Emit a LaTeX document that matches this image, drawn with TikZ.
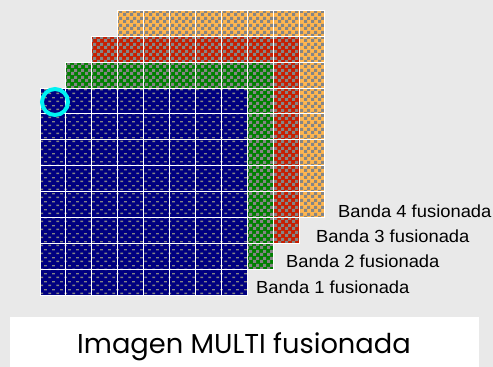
\documentclass[tikz,border=0pt]{standalone}
\usepackage{fontspec}
\setmainfont{Liberation Sans}
\newfontfamily\titlefont{Poppins}
\usetikzlibrary{patterns}
\pgfdeclarepatternformonly{mychecker}{\pgfpointorigin}{\pgfqpoint{6.475pt}{6.475pt}}{\pgfqpoint{6.475pt}{6.475pt}}{%
  \pgfpathrectangle{\pgfpointorigin}{\pgfqpoint{3.2375pt}{3.2375pt}}%
  \pgfpathrectangle{\pgfqpoint{3.2375pt}{3.2375pt}}{\pgfqpoint{3.2375pt}{3.2375pt}}%
  \pgfusepath{fill}}
\pgfdeclarepatternformonly{mydashes}{\pgfpointorigin}{\pgfqpoint{8pt}{8pt}}{\pgfqpoint{8pt}{8pt}}{%
  \pgfpathrectangle{\pgfqpoint{0.5pt}{1pt}}{\pgfqpoint{3pt}{1.5pt}}%
  \pgfpathrectangle{\pgfqpoint{4.5pt}{5pt}}{\pgfqpoint{3pt}{1.5pt}}%
  \pgfusepath{fill}}
\definecolor{bg}{HTML}{E9E9E9}
\definecolor{cnavy}{HTML}{000080}
\definecolor{cgreen}{HTML}{008000}
\definecolor{cred}{HTML}{C81E00}
\definecolor{corange}{HTML}{FFB64F}
\definecolor{cgrey}{HTML}{858585}
\definecolor{ccyan}{HTML}{00F2F2}
\tikzset{
  cellbase/.style={draw=white, line width=1pt},
  lbl/.style={anchor=west, inner sep=0pt, xscale=1.05, font=\fontsize{17.5}{17.5}\selectfont},
}
\newcommand{\bandgrid}[4]{% x0, y0, base color, pattern
  \foreach \i in {0,...,7}{
    \foreach \j in {0,...,7}{
      \fill[#3] ({#1+\i*25.9},{#2+\j*25.9}) rectangle ++(25.9,25.9);
      \fill[pattern=#4, pattern color=cgrey] ({#1+\i*25.9},{#2+\j*25.9}) rectangle ++(25.9,25.9);
      \draw[cellbase] ({#1+\i*25.9},{#2+\j*25.9}) rectangle ++(25.9,25.9);
    }
  }
}
\begin{document}
\begin{tikzpicture}[x=1pt,y=-1pt]
\fill[bg] (0,0) rectangle (493,367);
\useasboundingbox (0,0) rectangle (493,367);
\bandgrid{117.7}{10.3}{corange}{mychecker}
\bandgrid{91.8}{36.2}{cred}{mychecker}
\bandgrid{65.9}{62.1}{cgreen}{mychecker}
\bandgrid{40}{88}{cnavy}{mydashes}
\draw[ccyan, line width=4pt] (55,102) circle (13);
\node[lbl] (b4) at (338,211) {Banda 4 fusionada};
\node[lbl] (b3) at (316,236) {Banda 3 fusionada};
\node[lbl] (b2) at (286,261) {Banda 2 fusionada};
\node[lbl] (b1) at (256,287) {Banda 1 fusionada};
\fill[white] (10,317) rectangle (479,367);
\node[font=\titlefont\fontsize{27.3}{27.3}\selectfont, inner sep=0pt] (title) at (244,347) {Imagen MULTI fusionada};
\end{tikzpicture}
\end{document}
